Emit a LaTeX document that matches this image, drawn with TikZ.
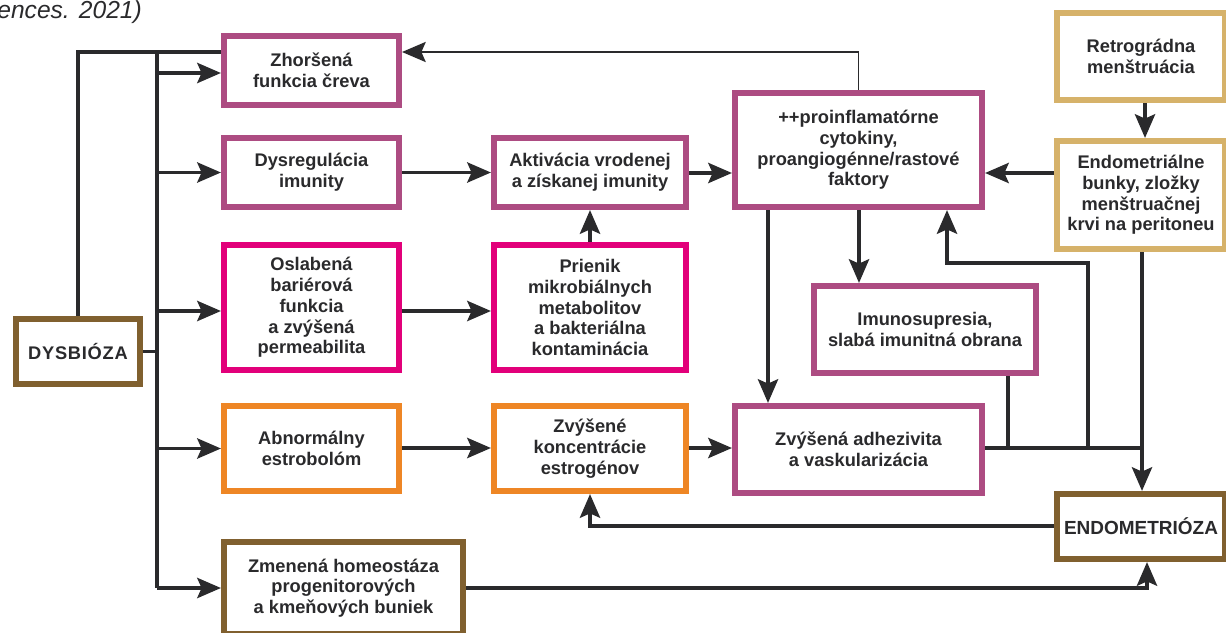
\documentclass[tikz,border=0pt]{standalone}
\usepackage{fontspec}
\setmainfont{Liberation Sans}
\usetikzlibrary{arrows.meta}
\definecolor{cpur}{HTML}{AD4C82}
\definecolor{cmag}{HTML}{E2007A}
\definecolor{cora}{HTML}{EE8625}
\definecolor{cbrn}{HTML}{80602F}
\definecolor{cgold}{HTML}{D6B26A}
\definecolor{cline}{HTML}{2A2A2C}
\begin{document}
\begin{tikzpicture}[x=0.02cm,y=-0.02cm,
  box/.style={draw, line width=3.5pt, fill=white, align=center,
    font=\fontsize{10.4}{11.8}\selectfont\bfseries, text=cline, inner sep=2pt},
  conn/.style={draw=cline, line width=2pt},
  thin conn/.style={draw=cline, line width=1pt},
  tip/.style={-{Stealth[length=13.5pt,width=11.5pt,inset=2.5pt]}},
  arr/.style={conn, tip}]
\useasboundingbox (0,0) rectangle (1226,632);

\node[anchor=base west, font=\fontsize{14}{16}\selectfont\itshape, text=cline, inner sep=0pt] (cit) at (-3,18) {ences. 2021)};

% boxes
\node[box,draw=cpur,minimum width=3.5cm,minimum height=1.38cm] (zf) at (311.5,70.5) {Zhoršená\\funkcia čreva};
\node[box,draw=cpur,minimum width=3.5cm,minimum height=1.38cm] (dr) at (311.5,172.5) {Dysregulácia\\imunity};
\node[box,draw=cmag,minimum width=3.5cm,minimum height=2.5cm] (ob) at (311.5,307.5) {Oslabená\\bariérová\\funkcia\\a zvýšená\\permeabilita};
\node[box,draw=cora,minimum width=3.5cm,minimum height=1.7cm] (ab) at (311.5,448.5) {Abnormálny\\estrobolóm};
\node[box,draw=cbrn,minimum width=4.78cm,minimum height=1.84cm] (zh) at (343.5,588) {Zmenená homeostáza\\progenitorových\\a kmeňových buniek};
\node[box,draw=cbrn,minimum width=2.48cm,minimum height=1.3cm,font=\fontsize{10.4}{11.8}\selectfont\bfseries\addfontfeature{LetterSpace=4}] (dys) at (78,351.5) {DYSBIÓZA};
\node[box,draw=cpur,minimum width=3.84cm,minimum height=1.38cm] (ak) at (590,172.5) {Aktivácia vrodenej\\a získanej imunity};
\node[box,draw=cmag,minimum width=3.84cm,minimum height=2.5cm] (pr) at (590,307.5) {Prienik\\mikrobiálnych\\metabolitov\\a bakteriálna\\kontaminácia};
\node[box,draw=cora,minimum width=3.84cm,minimum height=1.7cm] (zk) at (590,448.5) {Zvýšené\\koncentrácie\\estrogénov};
\node[box,draw=cpur,minimum width=4.94cm,minimum height=2.28cm] (pc) at (858.5,150) {++proinflamatórne\\cytokiny,\\proangiogénne/rastové\\faktory};
\node[box,draw=cpur,minimum width=4.44cm,minimum height=1.74cm] (im) at (925,329.5) {Imunosupresia,\\slabá imunitná obrana};
\node[box,draw=cpur,minimum width=4.94cm,minimum height=1.74cm] (ad) at (858.5,449.5) {Zvýšená adhezivita\\a vaskularizácia};
\node[box,draw=cgold,minimum width=3.36cm,minimum height=1.74cm] (rm) at (1141,56.5) {Retrográdna\\menštruácia};
\node[box,draw=cgold,minimum width=3.36cm,minimum height=2.16cm] (eb) at (1141,195) {Endometriálne\\bunky, zložky\\menštruačnej\\krvi na peritoneu};
\node[box,draw=cbrn,minimum width=3.36cm,minimum height=1.3cm,font=\fontsize{10.8}{12}\selectfont\bfseries] (en) at (1141,526.5) {ENDOMETRIÓZA};

% helper coordinates
\coordinate (top) at (78,52);
\coordinate (bt) at (157,52);
\coordinate (bb) at (157,588);
\coordinate (ytop) at (0,52);
\coordinate (fbk) at (947,263);
\coordinate (fbx) at (1088,263);
\coordinate (jn) at (1142,448);
\coordinate (ret) at (590,526);
\coordinate (zhy) at (0,588);
\coordinate (enb) at (1147,0);

% dysbioza connections
\draw[conn] (dys.north) -- (top) -- (zf.west |- ytop);
\draw[conn] (bt) -- (bb);
\draw[conn] (dys.east) -- (dys.east -| bt);
\draw[arr] (bt |- 0,73) -- (zf.west |- 0,73);
\draw[arr] (bt |- dr.west) -- (dr.west);
\draw[arr] (bt |- 0,311) -- (ob.west |- 0,311);
\draw[arr] (bt |- ab.west) -- (ab.west);
\draw[arr] (bb) -- (zh.west |- bb);

% middle flows
\draw[arr] (dr.east) -- (ak.west);
\draw[arr] (ak.east |- 0,173) -- (pc.west |- 0,173);
\draw[arr] (ob.east |- 0,311) -- (pr.west |- 0,311);
\draw[arr] (pr.north) -- (ak.south);
\draw[arr] (ab.east |- 0,448) -- (zk.west |- 0,448);
\draw[arr] (zk.east |- 0,448) -- (ad.west |- 0,448);

% top feedback to Zhorsena
\draw[thin conn, tip] (pc.north) -- (pc.north |- ytop) -- (zf.east |- ytop);

% right side
\draw[arr] (rm.south -| 1145,0) -- (eb.north -| 1145,0);
\draw[arr] (eb.west |- 0,173) -- (pc.east |- 0,173);
\draw[arr] (pc.south -| 768,0) -- (ad.north -| 768,0);
\draw[arr] (pc.south -| 859,0) -- (im.north -| 859,0);
\draw[conn] (ad.east |- jn) -- (jn);
\draw[conn] (im.south -| 1008,0) -- (1008,448);
\draw[arr] (fbx |- jn) -- (fbx) -- (fbk) -- (pc.south -| fbk);
\draw[arr] (eb.south -| jn) -- (en.north -| jn);

% endometrioza connections
\draw[arr] (en.west |- ret) -- (ret) -- (zk.south -| ret);
\draw[arr] (zh.east |- zhy) -- (enb |- zhy) -- (en.south -| enb);
\end{tikzpicture}
\end{document}
